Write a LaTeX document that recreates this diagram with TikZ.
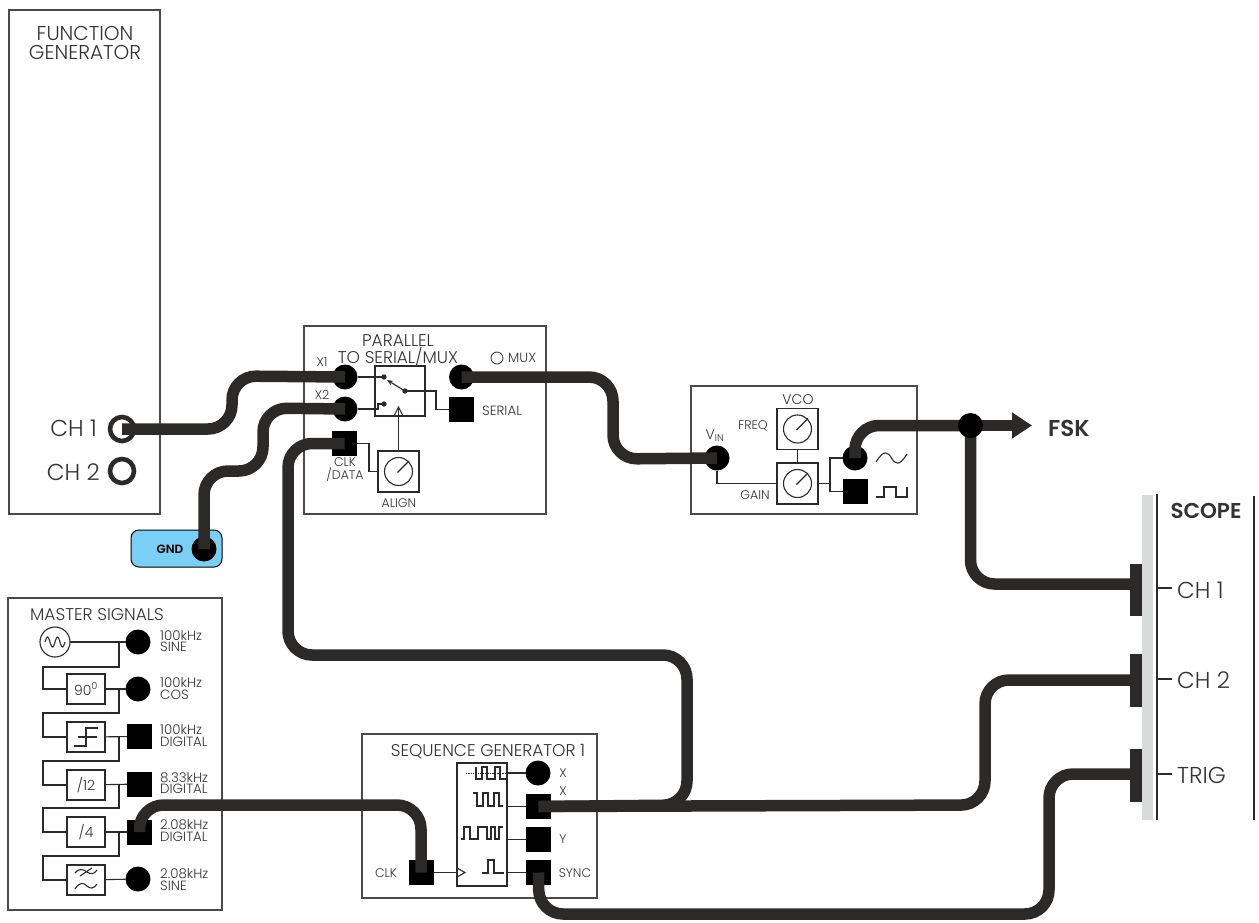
\documentclass[tikz,border=0pt]{standalone}
\usepackage{fontspec}
\setmainfont{Poppins}[UprightFont=* Light,BoldFont=* SemiBold]
\usetikzlibrary{arrows.meta,calc}
\definecolor{ink}{HTML}{2B2A29}
\definecolor{txt}{HTML}{333333}
\definecolor{gndblue}{HTML}{7ACFF5}
\definecolor{bar}{HTML}{D9DADA}
\tikzset{
  x=1pt,y=-1pt,
  panel/.style={draw=ink!85,line width=1.5pt,fill=white},
  wire/.style={draw=ink,line width=11.5pt,rounded corners=24pt,line cap=butt,line join=round},
  thin line/.style={draw=ink,line width=1.1pt},
  cport/.style={circle,fill=black,minimum size=25pt,inner sep=0pt,outer sep=0pt},
  sport/.style={rectangle,fill=black,minimum size=25pt,inner sep=0pt,outer sep=0pt},
  ring/.style={circle,draw=ink,line width=4.6pt,minimum size=24pt,inner sep=0pt,outer sep=0pt,fill=white},
  fblock/.style={draw=ink,line width=1.1pt,fill=white,minimum width=38pt,minimum height=30pt,inner sep=0pt,outer sep=0pt},
  kblock/.style={draw=ink,line width=1.1pt,fill=white,minimum size=41pt,inner sep=0pt,outer sep=0pt},
  lab/.style={text=txt,inner sep=0pt,font=\fontsize{12.5}{12.5}\selectfont,align=center},
  llab/.style={lab,anchor=west,align=left,font=\fontsize{13.4}{11.8}\selectfont},
  head/.style={lab,font=\fontsize{17}{15}\selectfont},
  big/.style={lab,font=\fontsize{23}{23}\selectfont},
  scopeb/.style={fill=ink},
}
\newcommand{\needle}[1]{\draw[thin line] (#1) circle (14pt); \draw[thin line] ($(#1)+(-1,1)$) -- ($(#1)+(10.5,-10.5)$);}
\begin{document}
\begin{tikzpicture}
\useasboundingbox (0,0) rectangle (1259,922);
% panels
\draw[panel] (9,10) rectangle (160,514);
\node[big,font=\fontsize{20}{19}\selectfont] (fgtitle) at (85,43) {FUNCTION\\GENERATOR};
\node[big,anchor=east] (ch1t) at (97,428) {CH 1};
\node[big,anchor=east] (ch2t) at (100,472) {CH 2};
\node[ring] (fg1) at (122,429) {};
\node[ring] (fg2) at (122,471) {};

\draw[draw=black,line width=1pt,fill=gndblue,rounded corners=8pt] (131,530) rectangle (222,567);
\node[lab,font=\fontsize{12}{12}\bfseries\selectfont,text=black] (gndt) at (170,549) {GND};
\node[cport] (gnd) at (204,549) {};

% parallel to serial
\draw[panel] (304,326) rectangle (546,514);
\node[head] (pst) at (398,350) {PARALLEL\\TO SERIAL/MUX};
\node[lab] (x1t) at (322,362) {X1};
\node[lab] (x2t) at (322,395) {X2};
\node[cport] (x1) at (345,377) {};
\node[cport] (x2) at (345,409) {};
\node[sport] (clkd) at (344.5,443.5) {};
\node[cport] (mux) at (461.5,377) {};
\node[sport] (serial) at (461.5,409.5) {};
\node[circle,draw=ink,line width=.8pt,minimum size=12pt,inner sep=0pt] (muxled) at (497,358) {};
\node[llab] (muxt) at (508,358) {MUX};
\node[llab] (sert) at (482,411) {SERIAL};
\node[lab,font=\fontsize{12.5}{11.5}\selectfont] (clkt) at (345,470) {CLK\\/DATA};
\node[kblock] (align) at (398.5,471.5) {};
\needle{align}
\node[lab] (alignt) at (399,503) {ALIGN};
\node[draw=ink,line width=1.1pt,minimum size=50pt,inner sep=0pt,outer sep=0pt] (sw) at (400,391) {};
\coordinate (c1) at (384,377);
\coordinate (c2) at (384,404);
\coordinate (pole) at (405,391);
\fill[ink] (c1) circle (2.7pt) (c2) circle (2.7pt) (pole) circle (2.7pt);
\draw[thin line] (x1) -- (c1);
\draw[thin line] (x2) -- (378,409) -- (378,404) -- (c2);
\draw[thin line,-{Stealth[length=6pt,width=5pt]}] (pole) -- (387,380);
\draw[thin line] (pole) -- (436,391) |- (serial);
\draw[thin line] (394,416) -- (398.5,407) -- (403,416);
\draw[thin line] (align.north) -- (398.5,407.5);
\draw[thin line] (clkd) -- (369,443.5) |- (align.west);

% VCO
\draw[panel] (691,386) rectangle (917,514);
\node[head,font=\fontsize{14}{14}\selectfont] (vcot) at (798,400) {VCO};
\node[lab] (freqt) at (753,426) {FREQ};
\node[lab] (gaint) at (755,495) {GAIN};
\node[lab,font=\fontsize{14}{14}\selectfont] (vint) at (715,436) {V\textsubscript{IN}};
\node[kblock] (freq) at (797.5,429) {};
\node[kblock] (gain) at (797.5,483.5) {};
\needle{freq}
\needle{gain}
\draw[thin line] (freq) -- (gain);
\node[cport] (vin) at (717,458) {};
\node[cport] (vsin) at (855,458) {};
\node[sport] (vsq) at (855,491.5) {};
\draw[thin line] (vin) |- (gain.west);
\draw[thin line] (gain.east) -- (830,483.5);
\draw[thin line] (vsin) -| (830,491.5) -- (vsq);
\draw[thin line] (876,462) .. controls (884,449) and (888,452) .. (891.5,458) .. controls (895,464) and (899,467) .. (907,454);
\draw[thin line] (876,497) -- (884,497) -- (884,487) -- (896,487) -- (896,497) -- (907,497) -- (907,487);

% master signals
\draw[panel] (8,598) rectangle (222,910);
\node[head] (mst) at (97,615) {MASTER SIGNALS};
\node[circle,draw=ink,line width=1.1pt,minimum size=30pt,inner sep=0pt,outer sep=0pt] (osc) at (55,642) {};
\draw[thin line,domain=-10:10,samples=40,smooth] plot (55+\x,{642-5*sin(\x*36)});
\node[cport] (m1) at (138,642) {};
\node[cport] (m2) at (138,689) {};
\node[sport] (m3) at (139.5,736.5) {};
\node[sport] (m4) at (139.5,784) {};
\node[sport] (m5) at (139.5,832) {};
\node[cport] (m6) at (138,879) {};
\node[fblock] (b2) at (86,689) {\fontsize{14}{14}\selectfont\color{txt}90\textsuperscript{0}};
\node[fblock] (b3) at (86,737) {};
\node[fblock] (b4) at (86,785) {\fontsize{14}{14}\selectfont\color{txt}/12};
\node[fblock] (b5) at (86,832) {\fontsize{14}{14}\selectfont\color{txt}/4};
\node[fblock] (b6) at (86,880) {};
\draw[thin line] (74,746) -- (86,746) -- (86,728) -- (98,728) (78,737) -- (97,737);
\draw[thin line] (75,873) .. controls (80,867) and (84,870) .. (87,872) .. controls (90,874) and (94,875) .. (97,870);
\draw[thin line] (75,889) .. controls (80,881) and (84,883) .. (87,886) .. controls (90,889) and (94,889) .. (97,884);
\draw[thin line] (80,876) -- (92,868);
\draw[thin line] (osc) -- (m1);
\draw[thin line] (b2) -- (m2);
\draw[thin line] (b3) -- (m3);
\draw[thin line] (b4) -- (m4);
\draw[thin line] (b5) -- (m5);
\draw[thin line] (b6) -- (m6);
\draw[thin line] (119,642) -- (119,667) -- (43,667) |- (b2.west);
\draw[thin line] (119,689) -- (119,713) -- (43,713) |- (b3.west);
\draw[thin line] (119,737) -- (119,761) -- (43,761) |- (b4.west);
\draw[thin line] (119,785) -- (119,808) -- (43,808) |- (b5.west);
\draw[thin line] (119,832) -- (119,856) -- (43,856) |- (b6.west);
\node[llab] (l1) at (160,641) {100kHz\\SINE};
\node[llab] (l2) at (160,688.5) {100kHz\\COS};
\node[llab] (l3) at (160,735.5) {100kHz\\DIGITAL};
\node[llab] (l4) at (160,783) {8.33kHz\\DIGITAL};
\node[llab] (l5) at (160,830.5) {2.08kHz\\DIGITAL};
\node[llab] (l6) at (160,879.5) {2.08kHz\\SINE};

% sequence generator
\draw[panel] (362,734) rectangle (597,898);
\node[head] (sgt) at (488,752) {SEQUENCE GENERATOR 1};
\node[draw=ink,line width=1.1pt,minimum width=50pt,minimum height=123pt,inner sep=0pt,outer sep=0pt] (sg) at (482,824.5) {};
\node[cport] (sx1) at (538,773) {};
\node[sport] (sx2) at (538.5,806.5) {};
\node[sport] (sy) at (538.5,839.5) {};
\node[sport] (ssync) at (538.5,872.5) {};
\node[sport] (sclk) at (421,872.5) {};
\node[lab] (tx1) at (563,773) {X};
\node[lab] (tx2) at (563,791) {X};
\node[lab] (ty) at (563,839) {Y};
\node[lab] (tsync) at (575,873) {SYNC};
\node[lab] (tclk) at (386,873) {CLK};
\draw[thin line] (sclk) -- (457,872.5);
\draw[thin line] (457,868) -- (465,872.5) -- (457,877);
\draw[thin line] (507,773) -- (sx1);
\draw[thin line] (507,806.5) -- (sx2);
\draw[thin line] (507,839.5) -- (sy);
\draw[thin line] (507,872.5) -- (ssync);
\draw[draw=ink,line width=.7pt,densely dotted] (466,773) -- (507,773);
\draw[thin line] (476,767) -- (476,779) -- (482,779) -- (482,767) -- (487,767) -- (487,779) -- (495,779) -- (495,767) -- (500,767) -- (500,779) -- (507,779);
\draw[thin line] (473,793) -- (477,793) -- (477,806) -- (483,806) -- (483,793) -- (488,793) -- (488,806) -- (494,806) -- (494,793) -- (499,793) -- (499,806) -- (503,806);
\draw[thin line] (461,839) -- (464,839) -- (464,827) -- (470,827) -- (470,839) -- (478,839) -- (478,827) -- (487,827) -- (487,839) -- (491,839) -- (491,827) -- (495,827) -- (495,839) -- (499,839) -- (499,827) -- (503,827);
\draw[thin line] (482,873) -- (488,873) -- (488,860) -- (494,860) -- (494,873) -- (504,873);

% scope
\fill[bar] (1142,495) rectangle (1153,820);
\draw[ink,line width=2.4pt] (1157,494) -- (1157,820);
\draw[ink,line width=2.4pt] (1254,496) -- (1254,820);
\node[lab,font=\fontsize{21.5}{21.5}\bfseries\selectfont] (scopet) at (1206,511) {SCOPE};
\path[scopeb] (1130,564) rectangle (1142,616);
\path[scopeb] (1130,654) rectangle (1142,707);
\path[scopeb] (1130,749) rectangle (1142,802);
\coordinate (sc1) at (1136,584);
\coordinate (sc2) at (1136,680);
\coordinate (sc3) at (1136,774);
\draw[thin line] (1157,588) -- (1172,588);
\draw[thin line] (1157,679) -- (1172,679);
\draw[thin line] (1157,774) -- (1172,774);
\node[big,anchor=west] (tc1) at (1177,590) {CH 1};
\node[big,anchor=west] (tc2) at (1177,680) {CH 2};
\node[big,anchor=west] (ttr) at (1177,775) {TRIG};

% output
\coordinate (fskend) at (1032,425.5);
\node[lab,font=\fontsize{23}{23}\bfseries\selectfont,anchor=west] (fsk) at (1048,428) {FSK};

% wires
\draw[wire] (fg1.center) -- (232,429) -- (232,376) -- (x1.center);
\draw[wire] (gnd.center) -- (204,471) -- (263,471) -- (263,408) -- (x2.center);
\draw[wire] (clkd.center) -- (288,443.5) -- (288,655) -- (687,655) -- (687,805) -- (sx2.center);
\draw[wire] (mux.center) -- (613,377) -- (613,459) -- (vin.center);
\draw[wire] (m5.center) -- (139.5,805) -- (421,805) -- (sclk.center);
\draw[wire] (sx2.center) -- (985,805) -- (985,680) -- (sc2);
\draw[wire] (ssync.center) -- (539,914) -- (1049,914) -- (1049,774) -- (sc3);
\coordinate (jc) at (970.5,425.5);
\draw[wire] (vsin.center) -- (855,425.5) -- (jc);
\draw[wire] (jc) -- (970.5,584) -- (sc1);
\draw[draw=ink,line width=11.5pt,-{Triangle[length=20pt,width=25pt]}] (jc) -- (fskend);
\node[cport] (junc) at (jc) {};
\end{tikzpicture}
\end{document}
